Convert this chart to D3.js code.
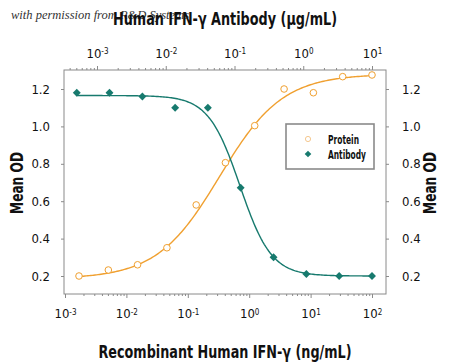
<!DOCTYPE html>
<html>
<head>
<meta charset="utf-8">
<script src="https://cdn.jsdelivr.net/npm/d3@7"></script>
<style>
  body { margin: 0; background: #fff; }
  svg text { font-family: "DejaVu Sans Condensed", "Liberation Sans Narrow", sans-serif; }
</style>
</head>
<body>
<svg id="chart" width="450" height="364"></svg>
<script>
// protein (ng/mL) - bottom axis
const proteinConc = [0.00169, 0.00508, 0.0152, 0.0457, 0.137, 0.41, 1.23, 3.7, 11.1, 33.3, 100];
const proteinOD = [0.20, 0.232, 0.26, 0.351, 0.58, 0.806, 1.004, 1.20, 1.18, 1.266, 1.275];
// antibody (ug/mL) - top axis
const antibodyConc = [0.000508, 0.00152, 0.00457, 0.0137, 0.041, 0.123, 0.37, 1.11, 3.33, 10];
const antibodyOD = [1.18, 1.18, 1.16, 1.10, 1.10, 0.672, 0.30, 0.211, 0.20, 0.20];
// 4PL fit params: bottom, top, ec50, hill
const proteinFit = [0.185, 1.28, 0.33, 0.85];
const antibodyFit = [0.20, 1.165, 0.12, 1.9];
const yTicks = [0.2, 0.4, 0.6, 0.8, 1.0, 1.2];
const bottomPowers = [-3, -2, -1, 0, 1, 2];
const topPowers = [-3, -2, -1, 0, 1];
const legendItems = ["Protein", "Antibody"];
const legendWidths = [31, 38];

const orange = "#f0a030", teal = "#177a6e";
const box = { left: 64, right: 386, top: 70, bottom: 294 };

const svg = d3.select("#chart");

const xBot = d3.scaleLog().domain([1e-3, 1e2]).range([65, 372]);
const xTop = d3.scaleLog().domain([1e-3, 10]).range([97, 372]);
const y = d3.scaleLinear().domain([0.2, 1.2]).range([276, 89]);

function minorTicks(scale) {
  const [a, b] = [scale.invert(box.left), scale.invert(box.right)];
  const out = [];
  for (let e = Math.floor(Math.log10(a)); e <= Math.ceil(Math.log10(b)); e++) {
    for (let m = 2; m <= 9; m++) {
      const v = m * Math.pow(10, e);
      if (v >= a && v <= b) out.push(v);
    }
  }
  return out;
}

function powLabel(sel) {
  sel.selectAll(".tick text").each(function (d) {
    const t = d3.select(this);
    const p = Math.round(Math.log10(d));
    t.text(null);
    t.append("tspan").text("10");
    t.append("tspan").attr("dy", "-0.45em").attr("font-size", "8px").text(p);
  });
}

// frame
svg.append("rect")
  .attr("x", box.left).attr("y", box.top)
  .attr("width", box.right - box.left).attr("height", box.bottom - box.top)
  .attr("fill", "none").attr("stroke", "#8a8a8a").attr("stroke-width", 1);

// bottom axis
const gb = svg.append("g").attr("transform", `translate(0,${box.bottom})`);
gb.append("g").call(d3.axisBottom(xBot).tickValues(minorTicks(xBot)).tickSize(2).tickFormat(""));
const gbm = gb.append("g").call(d3.axisBottom(xBot).tickValues(bottomPowers.map(p => Math.pow(10, p))).tickSize(4).tickPadding(11));
powLabel(gbm);

// top axis
const gt = svg.append("g").attr("transform", `translate(0,${box.top})`);
gt.append("g").call(d3.axisTop(xTop).tickValues(minorTicks(xTop)).tickSize(2).tickFormat(""));
const gtm = gt.append("g").call(d3.axisTop(xTop).tickValues(topPowers.map(p => Math.pow(10, p))).tickSize(4).tickPadding(8));
powLabel(gtm);

// y axes
svg.append("g").attr("transform", `translate(${box.left},0)`)
  .call(d3.axisLeft(y).tickValues(yTicks).tickSize(3).tickPadding(11).tickFormat(d3.format(".1f")));
svg.append("g").attr("transform", `translate(${box.right},0)`)
  .call(d3.axisRight(y).tickValues(yTicks).tickSize(3).tickPadding(13).tickFormat(d3.format(".1f")));

svg.selectAll(".domain").remove();
svg.selectAll(".tick line").attr("stroke", "#8a8a8a");
svg.selectAll(".tick text").attr("fill", "#111").attr("font-size", "13px");

// fitted curves
function fourPL(p, x, rising) {
  const [bot, top, ec, h] = p;
  const r = Math.pow(x / ec, h);
  return rising ? bot + (top - bot) * r / (1 + r) : bot + (top - bot) / (1 + r);
}
function curvePts(conc, scale, p, rising) {
  const lo = Math.log10(d3.min(conc)), hi = Math.log10(d3.max(conc));
  return d3.range(0, 201).map(i => {
    const x = Math.pow(10, lo + (hi - lo) * i / 200);
    return [scale(x), y(fourPL(p, x, rising))];
  });
}
const line = d3.line();
svg.append("path").attr("d", line(curvePts(proteinConc, xBot, proteinFit, true)))
  .attr("fill", "none").attr("stroke", orange).attr("stroke-width", 1.4);
svg.append("path").attr("d", line(curvePts(antibodyConc, xTop, antibodyFit, false)))
  .attr("fill", "none").attr("stroke", teal).attr("stroke-width", 1.4);

// points
svg.append("g").selectAll("circle").data(proteinConc).join("circle")
  .attr("cx", d => xBot(d)).attr("cy", (d, i) => y(proteinOD[i])).attr("r", 3.3)
  .attr("fill", "#fff").attr("stroke", orange).attr("stroke-width", 1);
const diamond = d3.symbol().type(d3.symbolDiamond2).size(40);
svg.append("g").selectAll("path").data(antibodyConc).join("path")
  .attr("d", diamond)
  .attr("transform", (d, i) => `translate(${xTop(d)},${y(antibodyOD[i])})`)
  .attr("fill", teal);

// legend
const lg = svg.append("g");
lg.append("rect").attr("x", 286).attr("y", 124).attr("width", 88).attr("height", 45)
  .attr("fill", "#fff").attr("stroke", "#8a8a8a").attr("stroke-width", 1.6);
lg.append("circle").attr("cx", 308).attr("cy", 139).attr("r", 2.6)
  .attr("fill", "#fff").attr("stroke", "#f5c890").attr("stroke-width", 1);
lg.append("path").attr("d", d3.symbol().type(d3.symbolDiamond2).size(28))
  .attr("transform", "translate(308,154)").attr("fill", teal);
lg.selectAll("text").data(legendItems).join("text")
  .attr("x", 328).attr("y", (d, i) => 143.5 + i * 15)
  .attr("textLength", (d, i) => legendWidths[i]).attr("lengthAdjust", "spacingAndGlyphs")
  .attr("font-size", "12.5px").attr("font-weight", "bold").attr("fill", "#111")
  .text(d => d);

// watermark + titles
svg.append("text").attr("x", 11).attr("y", 19)
  .style("font-family", "'Liberation Serif', 'DejaVu Serif', serif")
  .attr("font-style", "italic").attr("font-size", "12.5px").attr("fill", "#333")
  .text("with permission from R&D Systems");
svg.append("text").attr("x", 225).attr("y", 25).attr("text-anchor", "middle")
  .attr("textLength", 224).attr("lengthAdjust", "spacingAndGlyphs")
  .attr("font-size", "18px").attr("font-weight", "bold").attr("fill", "#111")
  .text("Human IFN-\u03b3 Antibody (\u00b5g/mL)");
svg.append("text").attr("x", 225).attr("y", 358).attr("text-anchor", "middle")
  .attr("textLength", 253).attr("lengthAdjust", "spacingAndGlyphs")
  .attr("font-size", "18px").attr("font-weight", "bold").attr("fill", "#111")
  .text("Recombinant Human IFN-\u03b3 (ng/mL)");
svg.append("text").attr("transform", "translate(23,183) rotate(-90)").attr("text-anchor", "middle")
  .attr("textLength", 62).attr("lengthAdjust", "spacingAndGlyphs")
  .attr("font-size", "18px").attr("font-weight", "bold").attr("fill", "#111").text("Mean OD");
svg.append("text").attr("transform", "translate(436,183) rotate(-90)").attr("text-anchor", "middle")
  .attr("textLength", 62).attr("lengthAdjust", "spacingAndGlyphs")
  .attr("font-size", "18px").attr("font-weight", "bold").attr("fill", "#111").text("Mean OD");
</script>
</body>
</html>
